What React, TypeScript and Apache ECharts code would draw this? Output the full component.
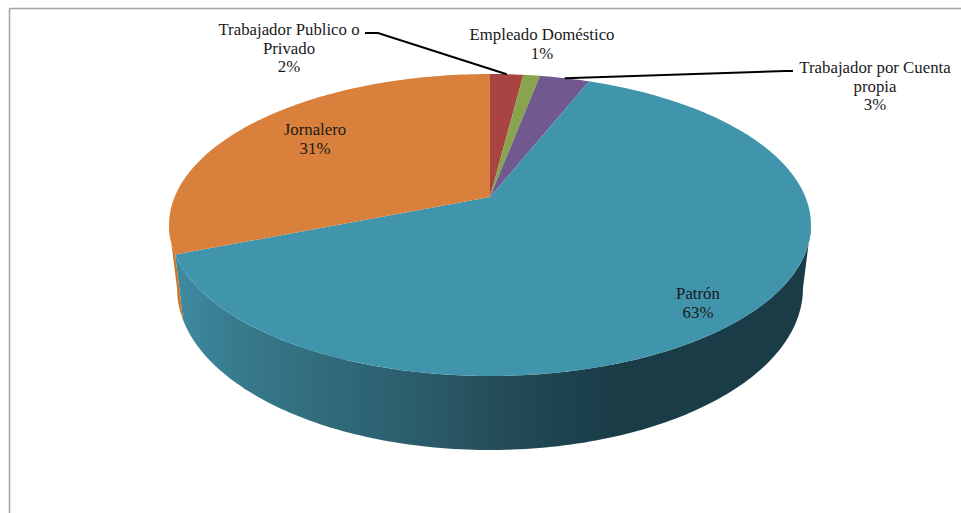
import React, { useEffect, useRef } from "react";
import * as echarts from "echarts";

const categories = [
  "Trabajador Publico o\nPrivado",
  "Empleado Doméstico",
  "Trabajador por Cuenta\npropia",
  "Patrón",
  "Jornalero",
];
const values = [2, 1, 3, 63, 31];
const topColors = ["#A84542", "#88A54D", "#71588F", "#4095AD", "#D9813C"];
const labelCentres = [
  [289, 48],
  [542, 44],
  [875, 86],
  [698, 303],
  [315, 139],
];
const leaders: (number[][] | null)[] = [
  [[378, 33], [365, 33]],
  null,
  [[785, 71], [793, 71]],
  null,
  null,
];

const TOTAL = values.reduce((a, b) => a + b, 0);
const CX = 490;
const TOP_APEX_Y = 197;
const A = 315.4;
const B = 145.8;
const K = -0.1854;
const BOT_APEX_Y = 258.5;
const BOT_SX = 0.975;
const BOT_SY = 1.07;
// Angles where the rim reaches its rightmost and leftmost x: the wall's silhouette.
const SIDE_R = (Math.acos(K) * 180) / Math.PI;
const SIDE_L = 360 - SIDE_R;

function rim(deg: number, bottom = false): number[] {
  const t = (deg * Math.PI) / 180;
  const u = Math.sin(t);
  const v = -Math.cos(t);
  const d = 1 + K * v;
  const x = (A * u) / d;
  const y = (B * v) / d;
  return bottom
    ? [CX + BOT_SX * x, BOT_APEX_Y + BOT_SY * y]
    : [CX + x, TOP_APEX_Y + y];
}

function range(i: number): number[] {
  const before = values.slice(0, i).reduce((a, b) => a + b, 0);
  return [(before / TOTAL) * 360, ((before + values[i]) / TOTAL) * 360];
}

function arc(a0: number, a1: number, bottom = false): number[][] {
  const pts: number[][] = [];
  const n = Math.max(2, Math.ceil(Math.abs(a1 - a0)));
  for (let i = 0; i <= n; i++) pts.push(rim(a0 + ((a1 - a0) * i) / n, bottom));
  return pts;
}

const FONT = '"Liberation Serif", serif';

export default function App() {
  const ref = useRef<HTMLDivElement>(null);
  useEffect(() => {
    document.body.style.margin = "0";
    const chart = echarts.init(ref.current!, undefined, { renderer: "svg" });
    const data = values.map((v, i) => ({ value: v, name: categories[i] }));
    const tealWall = new echarts.graphic.LinearGradient(
      175, 0, 620, 0,
      [
        { offset: 0, color: "#3f8ba3" },
        { offset: 0.13, color: "#387b8f" },
        { offset: 0.28, color: "#337080" },
        { offset: 0.5, color: "#2c606f" },
        { offset: 0.66, color: "#28525f" },
        { offset: 0.86, color: "#1e434f" },
        { offset: 1, color: "#1a3c47" },
      ],
      true
    );
    const wallFill = (i: number) => (i === 3 ? tealWall : i === 4 ? "#c9772f" : topColors[i]);
    const option: any = {
      animation: false,
      backgroundColor: "#ffffff",
      graphic: [
        { type: "line", silent: true, shape: { x1: 9.5, y1: 8.5, x2: 961, y2: 8.5 }, style: { stroke: "#a3a3a3", lineWidth: 1.5 } },
        { type: "line", silent: true, shape: { x1: 9.5, y1: 8.5, x2: 9.5, y2: 513 }, style: { stroke: "#a3a3a3", lineWidth: 1.5 } },
      ],
      series: [
        {
          type: "custom",
          coordinateSystem: "none",
          silent: true,
          z: 1,
          data,
          renderItem: (p: any) => {
            const [a0, a1] = range(p.dataIndex);
            const s = Math.max(a0, SIDE_R);
            const e = Math.min(a1, SIDE_L);
            if (e <= s) return { type: "group", children: [] };
            return {
              type: "polygon",
              shape: { points: [...arc(s, e), ...arc(e, s, true)] },
              style: { fill: wallFill(p.dataIndex) },
            };
          },
        },
        {
          type: "custom",
          coordinateSystem: "none",
          silent: true,
          z: 2,
          data,
          renderItem: (p: any) => {
            const [a0, a1] = range(p.dataIndex);
            return {
              type: "polygon",
              shape: { points: [[CX, TOP_APEX_Y], ...arc(a0, a1)] },
              style: { fill: topColors[p.dataIndex] },
            };
          },
        },
        {
          type: "custom",
          coordinateSystem: "none",
          silent: true,
          z: 3,
          data,
          renderItem: (p: any) => {
            const i = p.dataIndex;
            const [a0, a1] = range(i);
            const children: any[] = [
              {
                type: "text",
                style: {
                  text: `${categories[i]}\n${values[i]}%`,
                  x: labelCentres[i][0],
                  y: labelCentres[i][1],
                  align: "center",
                  verticalAlign: "middle",
                  fill: "#1a1a1a",
                  font: `16.8px ${FONT}`,
                  lineHeight: 18.5,
                },
              },
            ];
            const extra = leaders[i];
            if (extra) {
              children.push({
                type: "polyline",
                shape: { points: [rim((a0 + a1) / 2), ...extra] },
                style: { stroke: "#000000", lineWidth: 2, fill: "none" },
              });
            }
            return { type: "group", children };
          },
        },
      ],
    };
    chart.setOption(option);
    return () => chart.dispose();
  }, []);
  return <div ref={ref} style={{ width: 961, height: 513, position: "absolute", left: 0, top: 0 }} />;
}
